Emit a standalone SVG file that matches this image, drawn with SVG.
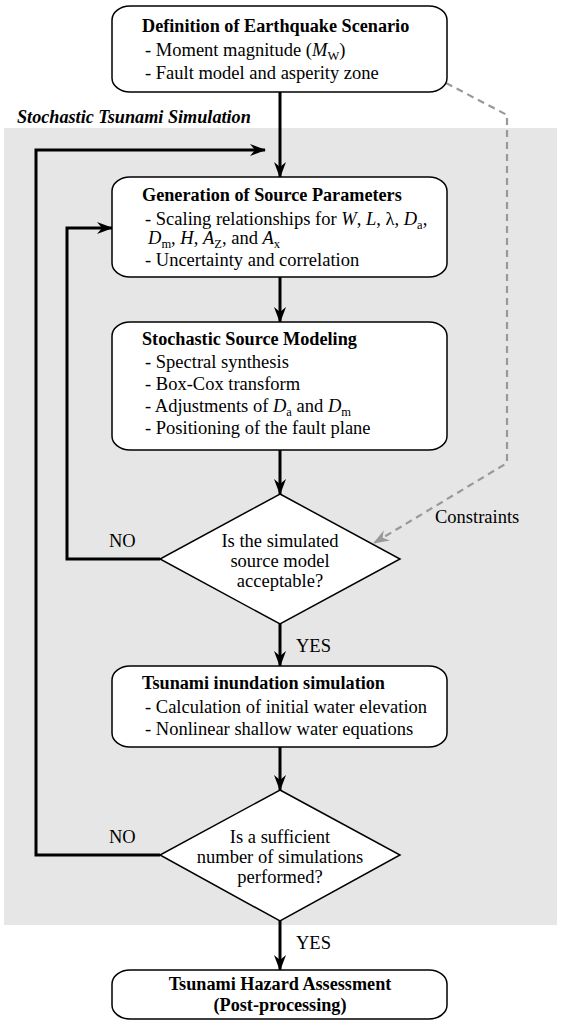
<svg xmlns="http://www.w3.org/2000/svg" width="561" height="1027" viewBox="0 0 561 1027">
<defs>
<marker id="ah" markerUnits="userSpaceOnUse" markerWidth="16" markerHeight="12" viewBox="0 0 16 12" refX="15" refY="6" orient="auto">
<path d="M0,0 L16,6 L0,12 L5,6 z" fill="#000"/>
</marker>
<marker id="ahg" markerUnits="userSpaceOnUse" markerWidth="16" markerHeight="12" viewBox="0 0 16 12" refX="15" refY="6" orient="auto">
<path d="M0,0 L16,6 L0,12 L5,6 z" fill="#999"/>
</marker>
</defs>
<style>
text{font-family:"Liberation Serif","Times New Roman",serif;font-size:18.5px;fill:#000}
.t{font-weight:bold;font-size:18.2px}
.c{text-anchor:middle}
.i{font-style:italic}
.s{font-size:12.5px}
.box{fill:#fff;stroke:#000;stroke-width:1.5}
.con{fill:none;stroke:#000;stroke-width:3}
.dash{fill:none;stroke:#999;stroke-width:2.2;stroke-dasharray:7,5}
</style>
<rect x="4" y="128" width="553" height="797" fill="#e6e6e6"/>
<text x="17" y="123" class="t i">Stochastic Tsunami Simulation</text>
<g id="connectors">
<path class="con" d="M280,92 V177" marker-end="url(#ah)"/>
<path class="con" d="M280,277 V322" marker-end="url(#ah)"/>
<path class="con" d="M280,450 V494" marker-end="url(#ah)"/>
<path class="con" d="M280,624 V666" marker-end="url(#ah)"/>
<path class="con" d="M280,747 V790" marker-end="url(#ah)"/>
<path class="con" d="M280,921 V970" marker-end="url(#ah)"/>
<path class="con" d="M160,559 H67 V228 H112" marker-end="url(#ah)"/>
<path class="con" d="M160,855 H36 V150 H265" marker-end="url(#ah)"/>
<path class="dash" d="M446,83 L507,115 V463 L374,543" marker-end="url(#ahg)"/>
<text x="109" y="547">NO</text>
<text x="109" y="843">NO</text>
<text x="296" y="652">YES</text>
<text x="296" y="949">YES</text>
<text x="435" y="523">Constraints</text>
</g>
<g id="scenario">
<rect class="box" x="112" y="6" width="335" height="86" rx="18" ry="14"/>
<text x="142" y="32" class="t">Definition of Earthquake Scenario</text>
<text x="145" y="56">- Moment magnitude (<tspan class="i">M</tspan><tspan class="s" dy="4">W</tspan><tspan dy="-4">)</tspan></text>
<text x="145" y="79">- Fault model and asperity zone</text>
</g>
<g id="generation">
<rect class="box" x="112" y="177" width="335" height="100" rx="18" ry="14"/>
<text x="142" y="201" class="t">Generation of Source Parameters</text>
<text x="145" y="225">- Scaling relationships for <tspan class="i">W</tspan>, <tspan class="i">L</tspan>, λ, <tspan class="i">D</tspan><tspan class="s" dy="4">a</tspan><tspan dy="-4">,</tspan></text>
<text x="148" y="244"><tspan class="i">D</tspan><tspan class="s" dy="4">m</tspan><tspan dy="-4">, </tspan><tspan class="i">H</tspan>, <tspan class="i">A</tspan><tspan class="s" dy="4">Z</tspan><tspan dy="-4">, and </tspan><tspan class="i">A</tspan><tspan class="s" dy="4">x</tspan></text>
<text x="145" y="266">- Uncertainty and correlation</text>
</g>
<g id="modeling">
<rect class="box" x="112" y="322" width="335" height="128" rx="18" ry="14"/>
<text x="142" y="345" class="t">Stochastic Source Modeling</text>
<text x="145" y="368">- Spectral synthesis</text>
<text x="145" y="390">- Box-Cox transform</text>
<text x="145" y="412">- Adjustments of <tspan class="i">D</tspan><tspan class="s" dy="4">a</tspan><tspan dy="-4"> and </tspan><tspan class="i">D</tspan><tspan class="s" dy="4">m</tspan></text>
<text x="145" y="434">- Positioning of the fault plane</text>
</g>
<g id="decision1">
<path class="box" d="M280,494 L400,559 L280,624 L160,559 z"/>
<text x="280" y="547" class="c">Is the simulated</text>
<text x="280" y="567" class="c">source model</text>
<text x="280" y="587" class="c">acceptable?</text>
</g>
<g id="inundation">
<rect class="box" x="112" y="666" width="335" height="81" rx="18" ry="14"/>
<text x="142" y="689" class="t">Tsunami inundation simulation</text>
<text x="145" y="713">- Calculation of initial water elevation</text>
<text x="145" y="735">- Nonlinear shallow water equations</text>
</g>
<g id="decision2">
<path class="box" d="M280,790 L400,855 L280,921 L160,855 z"/>
<text x="280" y="843" class="c">Is a sufficient</text>
<text x="280" y="863" class="c">number of simulations</text>
<text x="280" y="883" class="c">performed?</text>
</g>
<g id="assessment">
<rect class="box" x="112" y="970" width="335" height="49" rx="18" ry="14"/>
<text x="280" y="990" class="t c">Tsunami Hazard Assessment</text>
<text x="280" y="1011" class="t c">(Post-processing)</text>
</g>
</svg>
